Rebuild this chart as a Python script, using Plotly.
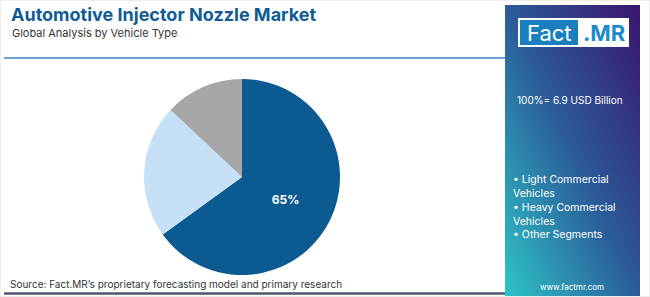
import base64
import plotly.graph_objects as go

# Data
segments = ["Light Commercial Vehicles", "Heavy Commercial Vehicles", "Other Segments"]
shares = [65, 22, 13]
slice_labels = ["<b>65%</b>", "", ""]
colors = ["#0b5a91", "#c6e1f5", "#a7a7a9"]
title = "Automotive Injector Nozzle Market"
subtitle = "Global Analysis by Vehicle Type"
total_text = "100%= 6.9 USD Billion"
legend_lines = ["\u2022 Light Commercial", "Vehicles", "\u2022 Heavy Commercial", "Vehicles", "\u2022 Other Segments"]
source = "Source: Fact.MR\u2019s proprietary forecasting model and primary research"

W, H = 650, 297
FONT = "Inter, sans-serif"

def px(x):
    return x / W

def py(y):
    return 1 - y / H

fig = go.Figure()
fig.add_trace(go.Pie(
    labels=segments, values=shares, text=slice_labels,
    textinfo="text", textposition="inside",
    insidetextfont=dict(color="white", size=12, family=FONT),
    marker=dict(colors=colors, line=dict(width=0)),
    sort=False, direction="clockwise", rotation=0,
    domain=dict(x=[px(144), px(340)], y=[py(275), py(79)]),
    showlegend=False, hoverinfo="label+percent",
))

svg = ('<svg xmlns="http://www.w3.org/2000/svg" width="135" height="291">'
       '<defs><linearGradient id="g" x1="1" y1="0" x2="0" y2="1">'
       '<stop offset="0" stop-color="#3a146e"/>'
       '<stop offset="0.5" stop-color="#2b5b98"/>'
       '<stop offset="1" stop-color="#2ec4c8"/>'
       '</linearGradient></defs>'
       '<rect width="135" height="291" fill="url(#g)"/></svg>')
uri = "data:image/svg+xml;base64," + base64.b64encode(svg.encode()).decode()

annotations = [
    dict(text=f"<b>{title}</b>", x=px(9), y=py(15), xref="paper", yref="paper",
         xanchor="left", yanchor="middle", showarrow=False,
         font=dict(size=18, color="#0f5c94", family=FONT)),
    dict(text=subtitle, x=px(10), y=py(33), xref="paper", yref="paper",
         xanchor="left", yanchor="middle", showarrow=False,
         font=dict(size=11, color="#333333", family=FONT)),
    dict(text=source, x=px(8), y=py(284), xref="paper", yref="paper",
         xanchor="left", yanchor="middle", showarrow=False,
         font=dict(size=10, color="#333333", family=FONT)),
    dict(text="Fact", x=px(549), y=py(33), xref="paper", yref="paper",
         xanchor="center", yanchor="middle", showarrow=False,
         font=dict(size=22, color="white", family=FONT)),
    dict(text="<b>.MR</b>", x=px(604), y=py(33), xref="paper", yref="paper",
         xanchor="center", yanchor="middle", showarrow=False,
         font=dict(size=22, color="#1a8ccc", family=FONT)),
    dict(text=total_text, x=px(515), y=py(100), xref="paper", yref="paper",
         xanchor="left", yanchor="middle", showarrow=False,
         font=dict(size=10, color="white", family=FONT)),
    dict(text="www.factmr.com", x=px(572), y=py(287), xref="paper", yref="paper",
         xanchor="center", yanchor="middle", showarrow=False,
         font=dict(size=8, color="white", family=FONT)),
]
for i, line in enumerate(legend_lines):
    annotations.append(dict(text=line, x=px(511), y=py(179 + 14 * i), xref="paper", yref="paper",
                            xanchor="left", yanchor="middle", showarrow=False,
                            font=dict(size=10.5, color="white", family=FONT)))

fig.update_layout(
    width=W, height=H, margin=dict(l=0, r=0, t=0, b=0),
    paper_bgcolor="white", plot_bgcolor="white",
    images=[dict(source=uri, xref="paper", yref="paper", x=px(505), y=py(5),
                 sizex=px(640) - px(505), sizey=py(5) - py(296), sizing="stretch",
                 xanchor="left", yanchor="top", layer="below")],
    shapes=[
        dict(type="rect", xref="paper", yref="paper", x0=0, x1=1, y0=0, y1=1,
             line=dict(color="#dddddd", width=1)),
        dict(type="line", xref="paper", yref="paper", x0=px(4), x1=px(505), y0=py(58), y1=py(58),
             line=dict(color="#3f82bf", width=1.5)),
        dict(type="line", xref="paper", yref="paper", x0=px(4), x1=px(505), y0=py(293.5), y1=py(293.5),
             line=dict(color="#4d5670", width=2.5)),
        dict(type="rect", xref="paper", yref="paper", x0=px(518), x1=px(629), y0=py(47), y1=py(18),
             fillcolor="white", line=dict(width=0)),
        dict(type="rect", xref="paper", yref="paper", x0=px(520), x1=px(578), y0=py(45), y1=py(20),
             fillcolor="#1a7fbf", line=dict(width=0)),
    ],
    annotations=annotations,
)

fig.write_html("out.html")
